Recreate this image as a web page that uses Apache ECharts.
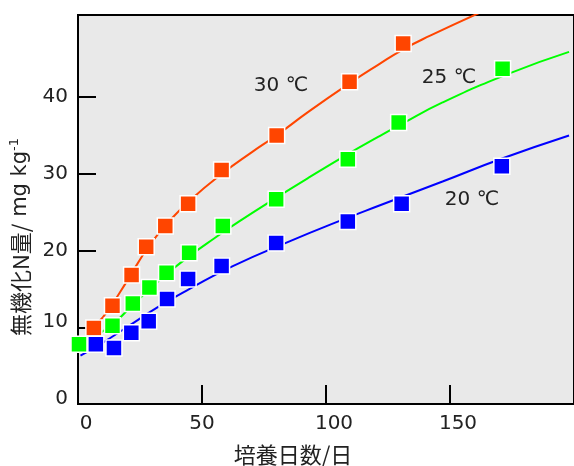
<!DOCTYPE html>
<html>
<head>
<meta charset="utf-8">
<script src="https://cdn.jsdelivr.net/npm/echarts@6/dist/echarts.min.js"></script>
<style>
  html, body { margin: 0; padding: 0; background: #fff; }
  #main { width: 574px; height: 466px; }
</style>
</head>
<body>
<div id="main"></div>
<script>
// 測定値（培養日数 / 無機化N量）
const days30 = [6.4, 13.9, 21.6, 27.5, 35.2, 44.4, 57.9, 80.1, 109.5, 131.1];
const n30    = [9.9, 12.8, 16.8, 20.5, 23.2, 26.1, 30.5, 35.0, 42.0, 47.0];

const days25 = [0.4, 13.9, 22.1, 28.8, 35.7, 44.8, 58.4, 79.9, 108.8, 129.3, 171.2];
const n25    = [7.8, 10.2, 13.1, 15.2, 17.1, 19.7, 23.2, 26.7, 31.9, 36.7, 43.7];

const days20 = [7.2, 14.5, 21.5, 28.5, 35.9, 44.4, 57.9, 79.9, 108.8, 130.5, 170.9];
const n20    = [7.8, 7.3, 9.3, 10.8, 13.7, 16.3, 18.0, 21.0, 23.8, 26.1, 31.0];

// 近似曲線
const curveDays30 = [5, 10, 17, 24, 30, 37, 45, 58, 70, 80, 93, 110, 121, 131, 142, 162];
const curve30     = [9.8, 11.3, 14.6, 18.3, 21.2, 23.9, 26.5, 30.0, 32.8, 35.0, 38.1, 41.9, 44.2, 46.2, 48.0, 51.0];

const curveDays25 = [1, 7, 14, 22, 29, 36, 45, 55, 65, 80, 93, 109, 121, 130, 147, 174, 198];
const curve25     = [7.8, 8.9, 10.4, 12.9, 15.0, 17.0, 19.3, 21.6, 23.8, 26.9, 29.5, 32.6, 34.8, 36.4, 39.3, 43.1, 45.9];

const curveDays20 = [1, 7, 13, 23, 33, 45, 62, 86, 105, 121, 147, 171, 198];
const curve20     = [6.3, 7.4, 8.6, 10.7, 12.8, 15.0, 17.9, 21.3, 23.8, 25.8, 29.0, 32.0, 35.0];

const yTicks = [0, 10, 20, 30, 40];
const xTicks = [0, 50, 100, 150];

const RED = '#ff4500', GREEN = '#00ff00', BLUE = '#0000ff';
const FONT = 'DejaVu Sans, sans-serif';
const JP = 'Noto Sans CJK JP, sans-serif';

const pairs = (xs, ys) => xs.map((x, i) => [x, ys[i]]);

const chart = echarts.init(document.getElementById('main'));

function curve(name, xs, ys, color) {
  return {
    name: name, type: 'line', data: pairs(xs, ys),
    smooth: true, showSymbol: false, z: 2,
    lineStyle: { color: color, width: 2 }
  };
}
function points(name, xs, ys, color) {
  return {
    name: name, type: 'scatter', data: pairs(xs, ys),
    symbol: 'rect', symbolSize: 16, z: 3,
    itemStyle: { color: color, borderColor: '#fff', borderWidth: 1.5, opacity: 1 }
  };
}

const tickText = { fontSize: 20, fontFamily: FONT, color: '#222' };

const option = {
  animation: false,
  grid: {
    left: 78, top: 15, width: 500, height: 389,
    show: true, backgroundColor: '#e9e9e9',
    borderColor: '#000', borderWidth: 2
  },
  xAxis: {
    type: 'value', min: 0, max: 200, interval: 50,
    axisLine: { show: true, lineStyle: { color: '#000', width: 2 } },
    axisTick: { show: true, inside: true, length: 19, customValues: xTicks, lineStyle: { color: '#000', width: 2 } },
    axisLabel: {
      customValues: xTicks, margin: 10,
      formatter: v => v === 50 ? '{n|50}' : '{o|' + v + '}',
      rich: {
        n: tickText,
        o: Object.assign({ padding: [0, 0, 0, 16] }, tickText)
      }
    },
    splitLine: { show: false }
  },
  yAxis: {
    type: 'value', min: 0, max: 50.7, interval: 10,
    axisLine: { show: true, lineStyle: { color: '#000', width: 2 } },
    axisTick: { show: true, inside: true, length: 18, customValues: yTicks, lineStyle: { color: '#000', width: 2 } },
    axisLabel: {
      customValues: yTicks, margin: 10,
      formatter: v => v <= 10 ? '{u|' + v + '}' : '{n|' + v + '}',
      rich: {
        n: tickText,
        u: Object.assign({ padding: [0, 0, 10, 0] }, tickText)
      }
    },
    splitLine: { show: false }
  },
  graphic: [
    { type: 'text', x: 281, y: 86, style: { text: '30 ℃', fontSize: 20, fontFamily: FONT, fill: '#222', textAlign: 'center', textVerticalAlign: 'middle' } },
    { type: 'text', x: 449, y: 78, style: { text: '25 ℃', fontSize: 20, fontFamily: FONT, fill: '#222', textAlign: 'center', textVerticalAlign: 'middle' } },
    { type: 'text', x: 472, y: 200, style: { text: '20 ℃', fontSize: 20, fontFamily: FONT, fill: '#222', textAlign: 'center', textVerticalAlign: 'middle' } },
    { type: 'text', x: 293, y: 455, style: { text: '培養日数/日', fontSize: 22, fontFamily: JP, fill: '#222', textAlign: 'center', textVerticalAlign: 'middle' } },
    {
      type: 'text', x: 21, y: 237, rotation: Math.PI / 2,
      style: {
        text: '{a|無機化N量/}{b| mg kg}{s|-1}',
        textAlign: 'center', textVerticalAlign: 'middle',
        rich: {
          a: { fontSize: 22, fontFamily: JP, fill: '#222', lineHeight: 26 },
          b: { fontSize: 21, fontFamily: FONT, fill: '#222', lineHeight: 26 },
          s: { fontSize: 13, fontFamily: FONT, fill: '#222', verticalAlign: 'top', lineHeight: 26 }
        }
      }
    }
  ],
  series: [
    curve('30℃ fit', curveDays30, curve30, RED),
    curve('25℃ fit', curveDays25, curve25, GREEN),
    curve('20℃ fit', curveDays20, curve20, BLUE),
    points('30℃', days30, n30, RED),
    points('25℃', days25, n25, GREEN),
    points('20℃', days20, n20, BLUE)
  ]
};

chart.setOption(option);
</script>
</body>
</html>
